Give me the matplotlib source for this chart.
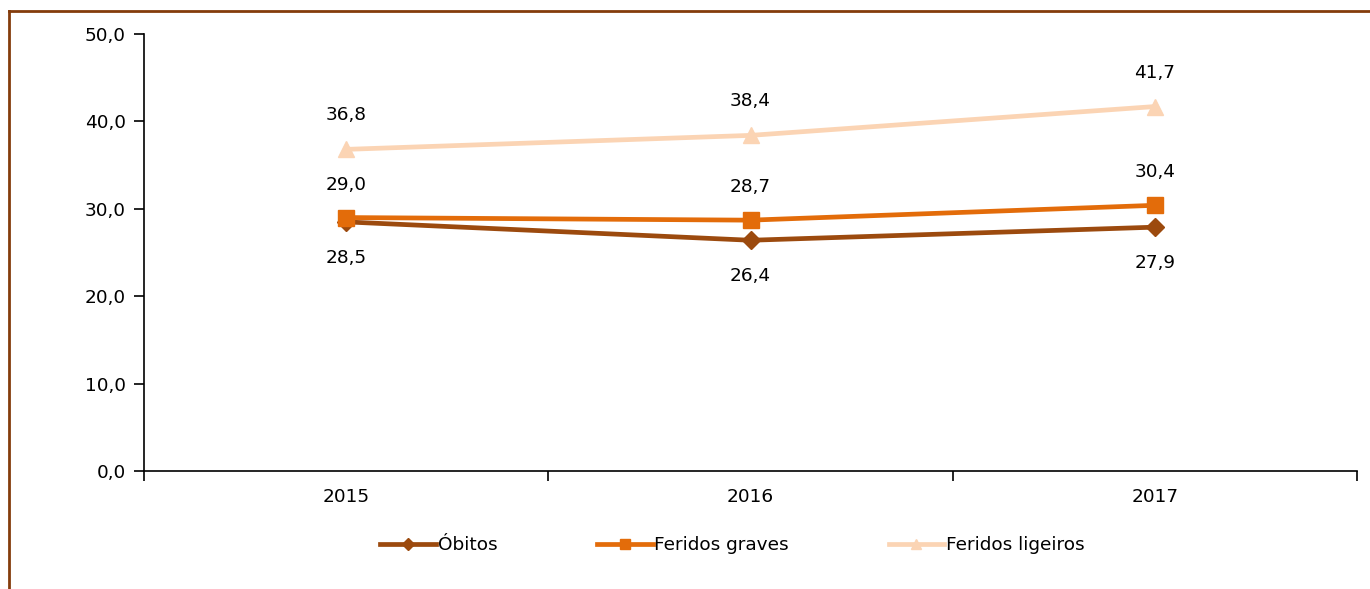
import matplotlib.pyplot as plt
from matplotlib.lines import Line2D
import numpy as np

plt.rcParams['font.family'] = ['DejaVu Sans']

anos = ['2015', '2016', '2017']
obitos = [28.5, 26.4, 27.9]
graves = [29.0, 28.7, 30.4]
ligeiros = [36.8, 38.4, 41.7]
yticks = [0, 10, 20, 30, 40, 50]

W, H = 1370, 589
FS = 13.3
fig = plt.figure(figsize=(W / 100, H / 100), dpi=100)
ax = fig.add_axes([144 / W, 1 - 471 / H, (1357 - 144) / W, (471 - 34) / H])

x = np.arange(len(anos)) + 0.5

def fmt(v):
    return f'{v:.1f}'.replace('.', ',')

l1, = ax.plot(x, obitos, color='#9C4A0E', lw=3.4, marker='D', ms=9, label='Óbitos', zorder=3)
l2, = ax.plot(x, graves, color='#E36C0A', lw=3.4, marker='s', ms=12, label='Feridos graves', zorder=4)
l3, = ax.plot(x, ligeiros, color='#FBD4B4', lw=3.4, marker='^', ms=12, label='Feridos ligeiros', zorder=2)

# data labels
for xi, v in zip(x, obitos):
    ax.annotate(fmt(v), (xi, v), xytext=(0, -36), textcoords='offset pixels',
                ha='center', va='center', fontsize=FS)
for xi, v in zip(x, graves):
    ax.annotate(fmt(v), (xi, v), xytext=(0, 33), textcoords='offset pixels',
                ha='center', va='center', fontsize=FS)
for xi, v in zip(x, ligeiros):
    ax.annotate(fmt(v), (xi, v), xytext=(0, 34), textcoords='offset pixels',
                ha='center', va='center', fontsize=FS)

ax.set_xlim(0, 3)
ax.set_ylim(0, 50)
ax.set_yticks(yticks)
ax.set_yticklabels([fmt(v) for v in yticks], fontsize=FS)
ax.set_xticks([0, 1, 2, 3])
ax.set_xticklabels([])
ax.set_xticks(x, minor=True)
ax.set_xticklabels(anos, minor=True, fontsize=FS)
ax.tick_params(axis='x', which='minor', length=0, pad=12)
ax.tick_params(axis='x', which='major', length=7, direction='out', width=1.2)
ax.tick_params(axis='y', length=7, width=1.2, pad=6)
for s in ['top', 'right']:
    ax.spines[s].set_visible(False)
ax.spines['left'].set_linewidth(1.2)
ax.spines['bottom'].set_linewidth(1.2)

fig.legend(handles=[l1, l2, l3], loc='center', bbox_to_anchor=(0.5347, 1 - 545 / H),
           ncol=3, frameon=False, fontsize=FS, handlelength=3.0, markerscale=0.65,
           handletextpad=0.1, columnspacing=5.4)

# page border (left and top)
fig.add_artist(Line2D([8.5 / W, 8.5 / W], [0, 1 - 11 / H], color='#843C0C', lw=2,
                      transform=fig.transFigure))
fig.add_artist(Line2D([8.5 / W, 1], [1 - 11 / H, 1 - 11 / H], color='#843C0C', lw=2,
                      transform=fig.transFigure))

fig.savefig('out.png', dpi=100)
